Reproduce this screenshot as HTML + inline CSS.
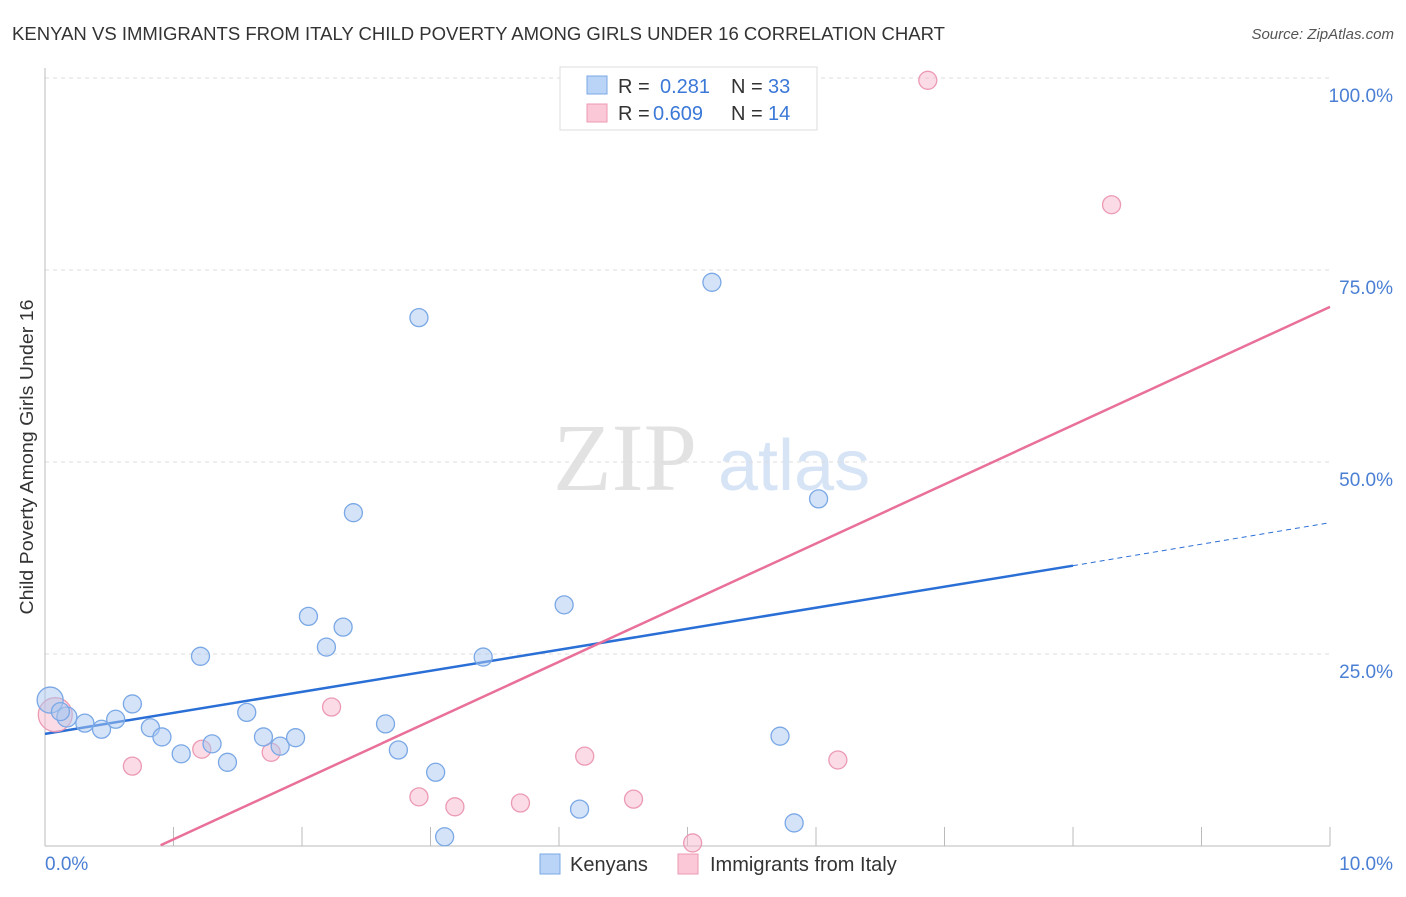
<!DOCTYPE html>
<html><head><meta charset="utf-8"><style>
body{margin:0;background:#fff;font-family:"Liberation Sans",sans-serif;}
</style></head><body>
<svg width="1406" height="892" xmlns="http://www.w3.org/2000/svg" style="font-family:'Liberation Sans',sans-serif">
<text x="12" y="40" font-size="18" fill="#333" textLength="933" lengthAdjust="spacingAndGlyphs">KENYAN VS IMMIGRANTS FROM ITALY CHILD POVERTY AMONG GIRLS UNDER 16 CORRELATION CHART</text>
<text x="1394" y="39" font-size="15" fill="#555" text-anchor="end" font-style="italic">Source: ZipAtlas.com</text>
<g>
<text x="553" y="490" font-size="96" font-family="'Liberation Serif',serif" fill="#e2e2e2">ZIP</text>
<text x="718" y="490" font-size="72" fill="#d6e4f6">atlas</text>
</g>
<g id="grid"></g>
<g id="axes"></g>
<g id="lines"></g>
<g id="pts"></g>
<text transform="translate(33,457) rotate(-90)" font-size="18" fill="#333" text-anchor="middle" textLength="315" lengthAdjust="spacingAndGlyphs">Child Poverty Among Girls Under 16</text>
<g>
<rect x="560" y="67" width="257" height="63" fill="#fff" stroke="#ddd"/>
<rect x="587" y="76" width="20" height="18" fill="#b9d4f6" stroke="#7aa8e6"/>
<rect x="587" y="104" width="20" height="18" fill="#fbc8d7" stroke="#ec9ab3"/>
<text x="618" y="93" font-size="20" fill="#333">R = <tspan fill="#3b78d8" x="660">0.281</tspan><tspan x="731" fill="#333">N = </tspan><tspan fill="#3b78d8" x="768">33</tspan></text>
<text x="618" y="120" font-size="20" fill="#333">R = <tspan fill="#3b78d8" x="653">0.609</tspan><tspan x="731" fill="#333">N = </tspan><tspan fill="#3b78d8" x="768">14</tspan></text>
</g>
<g>
<rect x="540" y="854" width="20" height="20" fill="#b9d4f6" stroke="#7aa8e6"/>
<text x="570" y="871" font-size="20" fill="#333">Kenyans</text>
<rect x="678" y="854" width="20" height="20" fill="#fbc8d7" stroke="#ec9ab3"/>
<text x="710" y="871" font-size="20" fill="#333">Immigrants from Italy</text>
</g>
</svg>
<script>
const blueX=[0.04,0.17,0.31,0.44,0.55,0.68,0.82,0.91,1.06,1.21,1.30,1.42,1.57,1.70,1.83,1.95,2.05,2.19,2.32,2.40,2.65,2.75,2.91,3.04,3.11,3.41,4.04,4.16,5.19,5.72,5.83,6.02,0.12];
const blueY=[19.0,16.8,16.0,15.2,16.5,18.5,15.4,14.2,12.0,24.7,13.3,10.9,17.4,14.2,13.0,14.1,29.9,25.9,28.5,43.4,15.9,12.5,68.8,9.6,1.2,24.6,31.4,4.8,73.4,14.3,3.0,45.2,17.5];
const blueR=[13,10,9,9,9,9,9,9,9,9,9,9,9,9,9,9,9,9,9,9,9,9,9,9,9,9,9,9,9,9,9,9,9];
const pinkX=[0.08,0.68,1.22,1.76,2.23,2.91,3.19,3.70,4.20,4.58,5.04,6.17,6.87,8.30];
const pinkY=[17.1,10.4,12.6,12.2,18.1,6.4,5.1,5.6,11.7,6.1,0.4,11.2,99.7,83.5];
const pinkR=[17,9,9,9,9,9,9,9,9,9,9,9,9,9];
const yTicks=[25,50,75,100];
const yTickLabels=["25.0%","50.0%","75.0%","100.0%"];
const xTicks=[0,1,2,3,4,5,6,7,8,9,10];
const blueTrend=[0,14.6,8.0,36.5,10,42.1];
const pinkTrend=[0.9,0.1,10,70.2];
const NS="http://www.w3.org/2000/svg";
const X=v=>45+v*128.5, Y=v=>846-v*7.68;
function mk(t,a,p){const e=document.createElementNS(NS,t);for(const k in a)e.setAttribute(k,a[k]);document.getElementById(p).appendChild(e);return e;}
yTicks.forEach((t,i)=>{
 const l=mk('line',{x1:45,x2:1330,y1:Y(t),y2:Y(t),stroke:'#ddd','stroke-dasharray':'4,4'},'grid');
 
 
 const tx=mk('text',{x:1393,y:Y(t)+24,'font-size':19,fill:'#4a7fd4','text-anchor':'end'},'grid');
 tx.textContent=yTickLabels[i];
 
 
});
const ax=mk('line',{x1:45,x2:1330,y1:846,y2:846,stroke:'#bbb'},'axes');


const ay=mk('line',{x1:45,x2:45,y1:68,y2:846,stroke:'#bbb'},'axes');


xTicks.forEach(t=>{
 const l=mk('line',{x1:X(t),x2:X(t),y1:827,y2:846,stroke:'#bbb'},'axes');
 
 
});
const x0=mk('text',{x:45,y:870,'font-size':19,fill:'#4a7fd4'},'axes');x0.textContent='0.0%';


const x1=mk('text',{x:1393,y:870,'font-size':19,fill:'#4a7fd4','text-anchor':'end'},'axes');x1.textContent='10.0%';


pinkX.forEach((v,i)=>{
 const c=mk('circle',{cx:X(v),cy:Y(pinkY[i]),r:pinkR[i],fill:'#f7b8cb','fill-opacity':0.5,stroke:'#ec9ab3','stroke-width':1.3},'pts');
 
 
});
blueX.forEach((v,i)=>{
 const c=mk('circle',{cx:X(v),cy:Y(blueY[i]),r:blueR[i],fill:'#a9c8f0','fill-opacity':0.5,stroke:'#7aa8e6','stroke-width':1.3},'pts');
 
 
});
const b1=mk('line',{x1:X(blueTrend[0]),y1:Y(blueTrend[1]),x2:X(blueTrend[2]),y2:Y(blueTrend[3]),stroke:'#2a6fd6','stroke-width':2.5},'lines');


const b2=mk('line',{x1:X(blueTrend[2]),y1:Y(blueTrend[3]),x2:X(blueTrend[4]),y2:Y(blueTrend[5]),stroke:'#2a6fd6','stroke-width':1,'stroke-dasharray':'5,4'},'lines');


const p1=mk('line',{x1:X(pinkTrend[0]),y1:Y(pinkTrend[1]),x2:X(pinkTrend[2]),y2:Y(pinkTrend[3]),stroke:'#e8709a','stroke-width':2.5},'lines');


</script>
</body></html>
